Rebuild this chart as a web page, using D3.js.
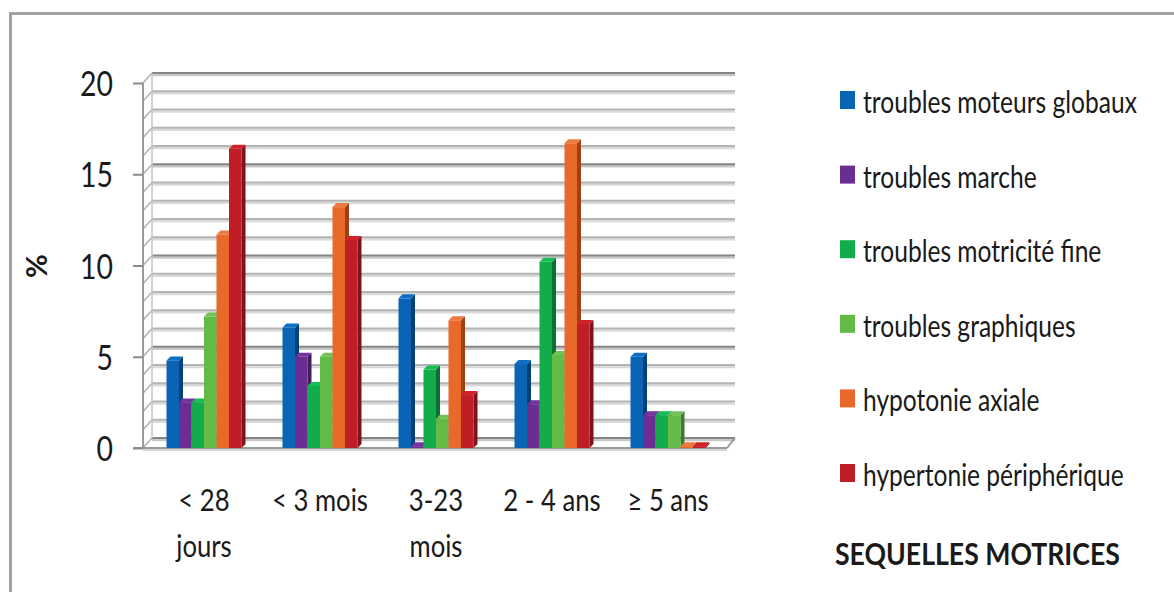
<!DOCTYPE html>
<html><head><meta charset="utf-8">
<script src="https://cdn.jsdelivr.net/npm/d3@7"></script>
<style>
html,body{margin:0;padding:0;background:#fff;}
svg{display:block;}
text{font-family:Lato,"Open Sans",sans-serif;fill:#1a1a1a;}
</style></head><body>
<svg id="chart" width="1174" height="592"></svg>
<script>
const categories = ["< 28\njours", "< 3 mois", "3-23\nmois", "2 - 4 ans", "≥ 5 ans"];
const seriesNames = ["troubles moteurs globaux", "troubles marche", "troubles motricité fine", "troubles graphiques", "hypotonie axiale", "hypertonie périphérique"];
const seriesColors = ["#0a64b5", "#6a2d91", "#13ac4b", "#62bb46", "#e8692a", "#c01e26"];
const troublesMoteursGlobaux = [4.8, 6.6, 8.2, 4.6, 5.0];
const troublesMarche = [2.5, 5.0, 0.1, 2.4, 1.8];
const troublesMotriciteFine = [2.5, 3.4, 4.3, 10.2, 1.8];
const troublesGraphiques = [7.2, 5.0, 1.6, 5.1, 1.8];
const hypotonieAxiale = [11.7, 13.2, 7.0, 16.7, 0.1];
const hypertoniePeripherique = [16.4, 11.4, 2.9, 6.8, 0.1];
const seriesValues = [troublesMoteursGlobaux, troublesMarche, troublesMotriciteFine, troublesGraphiques, hypotonieAxiale, hypertoniePeripherique];
const yTicks = [0, 5, 10, 15, 20];
const yLabel = "%";
const chartTitle = "SEQUELLES MOTRICES";

const svg = d3.select("#chart");
// outer frame
svg.append("path").attr("d", "M10.5,592 L10.5,13.5 L1174,13.5").attr("fill","none").attr("stroke","#a3a3a3").attr("stroke-width",3);

const y = d3.scaleLinear().domain([0, 20]).range([448, 83]);
const x = d3.scaleBand().domain(d3.range(categories.length)).range([146, 726]);
const groupW = 75;
const xs = d3.scaleBand().domain(d3.range(seriesNames.length)).range([0, groupW]);
const DX = 9, DY = -10;
const axisX = 143, wallRight = 735;

const g = svg.append("g");
// back wall gridlines
d3.range(0, 21).forEach(v => {
  const major = v % 5 === 0;
  const yy = y(v) + DY;
  g.append("line").attr("x1", axisX + DX).attr("x2", wallRight).attr("y1", yy + 2).attr("y2", yy + 2)
    .attr("stroke", major ? "#c8c8c8" : "#dadada").attr("stroke-width", 2.6);
  g.append("line").attr("x1", axisX + DX).attr("x2", wallRight).attr("y1", yy).attr("y2", yy)
    .attr("stroke", major ? "#858585" : "#b4b4b4").attr("stroke-width", 2);
  g.append("line").attr("x1", axisX).attr("x2", axisX + DX).attr("y1", y(v)).attr("y2", yy)
    .attr("stroke", "#b0b0b0").attr("stroke-width", 1.5);
});
g.append("line").attr("x1", axisX + DX).attr("x2", axisX + DX).attr("y1", y(20) + DY).attr("y2", y(0) + DY)
  .attr("stroke", "#c4c4c4").attr("stroke-width", 1.5);
// floor edges
g.append("line").attr("x1", axisX).attr("x2", 727).attr("y1", y(0) + 2).attr("y2", y(0) + 2).attr("stroke", "#d6d6d6").attr("stroke-width", 2);
g.append("line").attr("x1", 133).attr("x2", 727).attr("y1", y(0)).attr("y2", y(0)).attr("stroke", "#9a9a9a").attr("stroke-width", 2);
g.append("line").attr("x1", 727).attr("x2", wallRight).attr("y1", y(0)).attr("y2", y(0) + DY).attr("stroke", "#9a9a9a").attr("stroke-width", 2);

// y axis line and ticks
g.append("line").attr("x1", axisX).attr("x2", axisX).attr("y1", y(20)).attr("y2", y(0)).attr("stroke", "#9a9a9a").attr("stroke-width", 2);
const ya = svg.append("g").attr("transform", `translate(${axisX},0)`).call(d3.axisLeft(y).tickValues(yTicks).tickSize(10).tickFormat(""));
ya.select(".domain").remove();
ya.selectAll(".tick line").attr("stroke", "#8a8a8a").attr("stroke-width", 2);

// condensed text helper
function condensed(parent, str, px, py, size, anchor, weight) {
  return parent.append("text").attr("font-size", size).attr("text-anchor", anchor)
    .attr("font-weight", weight || "normal").attr("transform", `translate(${px},${py})`).text(str);
}
function fitGroup(texts, refIndex, targetW) {
  const w = texts[refIndex].node().getComputedTextLength();
  const k = targetW / w;
  texts.forEach(t => t.attr("transform", t.attr("transform") + ` scale(${k},1)`));
}

const tickTexts = yTicks.map(v => condensed(svg, String(v), 113, y(v) + 13, 35, "end"));
fitGroup(tickTexts, yTicks.length - 1, 33);

// bars
const bd = 4;
function shade(c, k) { const h = d3.hsl(c); h.l = Math.max(0, Math.min(1, h.l * k)); return h.formatHex(); }
categories.forEach((cat, ci) => {
  const gx = x(ci) + (x.bandwidth() - groupW) / 2;
  seriesValues.forEach((vals, si) => {
    const v = vals[ci];
    const x0 = gx + xs(si), w = xs.bandwidth();
    const yt = y(v), yb = y(0);
    const c = seriesColors[si];
    g.append("path").attr("d", `M${x0 + w},${yt} L${x0 + w + bd},${yt - bd} L${x0 + w + bd},${yb - bd} L${x0 + w},${yb} Z`).attr("fill", shade(c, 0.65));
    g.append("path").attr("d", `M${x0},${yt} L${x0 + bd},${yt - bd} L${x0 + w + bd},${yt - bd} L${x0 + w},${yt} Z`).attr("fill", shade(c, 1.1));
    g.append("rect").attr("x", x0).attr("y", yt).attr("width", w).attr("height", yb - yt).attr("fill", c);
  });
});

// x labels
const xTexts = [];
categories.forEach((cat, ci) => {
  const cx = x(ci) + x.bandwidth() / 2;
  cat.split("\n").forEach((line, li) => {
    xTexts.push(condensed(svg, line, cx, 511 + li * 46, 31, "middle"));
  });
});
fitGroup(xTexts, 2, 96);

// y label
svg.append("text").attr("transform", "translate(47,266) rotate(-90)").attr("text-anchor", "middle")
  .attr("font-size", 29).attr("font-weight", "bold").text(yLabel);

// legend
const legTexts = seriesNames.map((name, i) => {
  const by = 113 + i * 74.6;
  svg.append("rect").attr("x", 840).attr("y", by - 22).attr("width", 15).attr("height", 18).attr("fill", seriesColors[i]);
  return condensed(svg, name, 863, by, 31, "start");
});
fitGroup(legTexts, 0, 274);
const title = condensed(svg, chartTitle, 835, 565, 30, "start", "bold");
fitGroup([title], 0, 285);
</script>
</body></html>
